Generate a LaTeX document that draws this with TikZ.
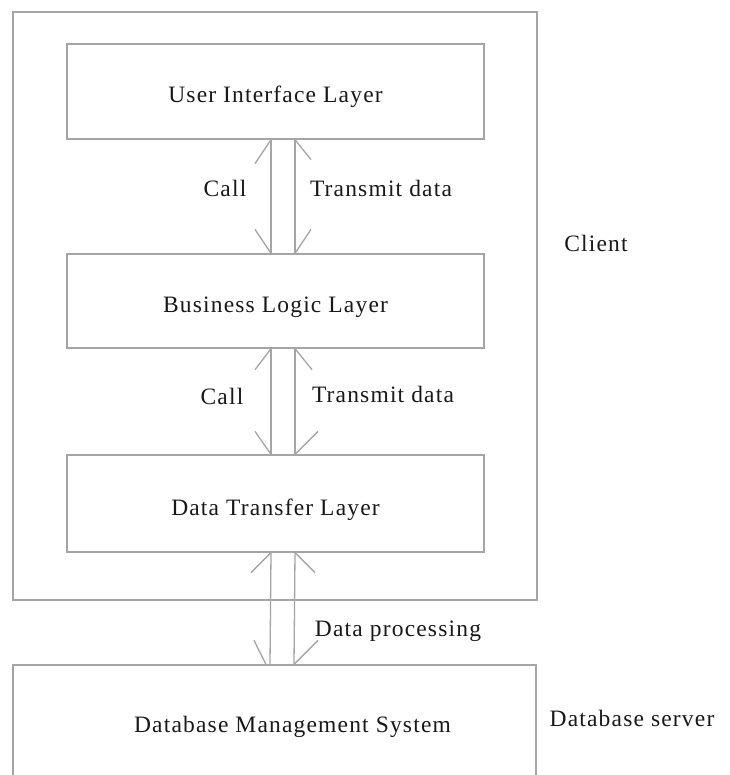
\documentclass[tikz,border=0pt]{standalone}
\usepackage{fontspec}
\setmainfont{Liberation Serif}[LetterSpace=5]
\definecolor{linegray}{RGB}{165,165,165}
\definecolor{txt}{RGB}{25,25,25}
\begin{document}
\begin{tikzpicture}[x=1pt,y=-1pt,
  line/.style={draw=linegray, line width=1.3pt},
  box/.style={line, rectangle, inner sep=0pt, text=txt, text height=23pt, text depth=0pt,
    font=\fontsize{23.5}{27}\selectfont},
  lbl/.style={inner sep=0pt, text=txt, font=\fontsize{23.5}{27}\selectfont}]
\useasboundingbox (0,0) rectangle (729,775);
\clip (0,0) rectangle (729,775);
\fill[white] (0,0) rectangle (729,775);
% outer client box
\node[line, rectangle, inner sep=0pt, minimum width=524pt, minimum height=588pt] (client) at (275,306) {};
% layers
\node[box, minimum width=417pt, minimum height=95pt] (ui) at (275.5,91.5) {User Interface Layer};
\node[box, minimum width=417pt, minimum height=94pt] (bll) at (275.5,301) {Business Logic Layer};
\node[box, minimum width=417pt, minimum height=97pt] (dtl) at (275.5,503.5) {Data Transfer Layer};
\node[line, rectangle, inner sep=0pt, minimum width=523pt, minimum height=140pt] (dbms) at (274.5,735) {};
\node[lbl] (dbmstext) at (292.5,727) {Database Management System};
% arrows UI <-> BLL
\draw[line] ([xshift=-4.5pt]ui.south) -- ([xshift=-4.5pt]bll.north);
\draw[line] ([xshift=-4.5pt]ui.south) -- ++(-16,24);
\draw[line] ([xshift=-4.5pt]bll.north) -- ++(-16,-24);
\draw[line] ([xshift=19.5pt]ui.south) -- ([xshift=19.5pt]bll.north);
\draw[line] ([xshift=19.5pt]ui.south) -- ++(16,20);
\draw[line] ([xshift=19.5pt]bll.north) -- ++(16,-24);
% arrows BLL <-> DTL
\draw[line] ([xshift=-4.5pt]bll.south) -- ([xshift=-4.5pt]dtl.north);
\draw[line] ([xshift=-4.5pt]bll.south) -- ++(-16,21);
\draw[line] ([xshift=-4.5pt]dtl.north) -- ++(-16,-23);
\draw[line] ([xshift=19.5pt]bll.south) -- ([xshift=19.5pt]dtl.north);
\draw[line] ([xshift=19.5pt]bll.south) -- ++(17,21);
\draw[line] ([xshift=19.5pt]dtl.north) -- ++(23,-23);
% arrows DTL <-> DBMS
\draw[line] ([xshift=-4.5pt]dtl.south) -- ([xshift=-4.5pt]dbms.north);
\draw[line] ([xshift=-4.5pt]dtl.south) -- ++(-20,20);
\draw[line] ([xshift=-8.5pt]dbms.north) -- ++(-12,-24);
\draw[line] ([xshift=19.5pt]dtl.south) -- ([xshift=19.5pt]dbms.north);
\draw[line] ([xshift=19.5pt]dtl.south) -- ++(20,20);
\draw[line] ([xshift=19.5pt]dbms.north) -- ++(24,-24);
% labels
\node[lbl] (call1) at (225,188) {Call};
\node[lbl] (trans1) at (381,188) {Transmit data};
\node[lbl] (call2) at (222,396) {Call};
\node[lbl] (trans2) at (383,394) {Transmit data};
\node[lbl] (proc) at (398,631) {Data processing};
\node[lbl] (clientlbl) at (596,243) {Client};
\node[lbl] (server) at (632,718) {Database server};
\end{tikzpicture}
\end{document}
